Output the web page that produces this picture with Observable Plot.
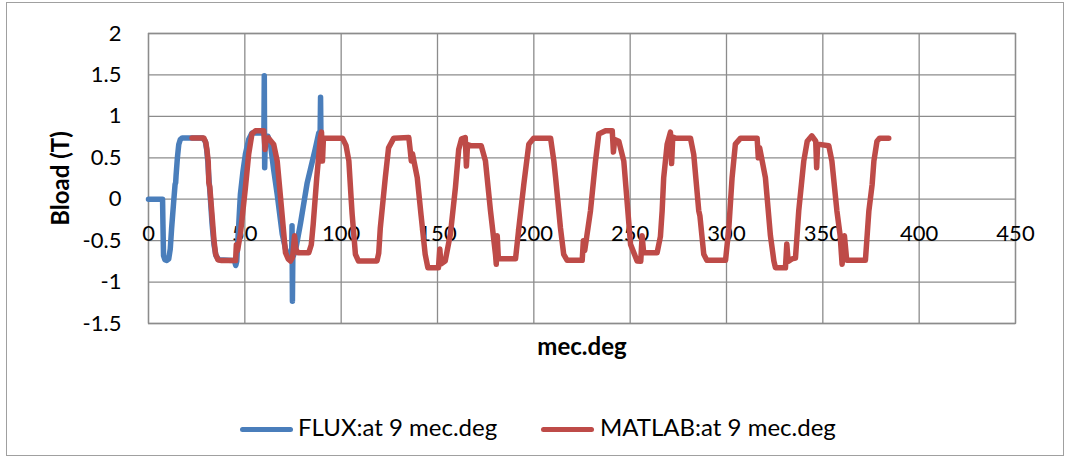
<!DOCTYPE html>
<html>
<head>
<meta charset="utf-8">
<script src="https://cdn.jsdelivr.net/npm/d3@7"></script>
<script src="https://cdn.jsdelivr.net/npm/@observablehq/plot@0.6"></script>
<style>
  html, body { margin: 0; padding: 0; background: #fff; }
  #wrap { position: relative; width: 1065px; height: 457px; overflow: hidden; font-family: Lato, sans-serif; }
  #border { position: absolute; left: 6px; top: 2px; width: 1058px; height: 454px; box-sizing: border-box; border: 1.5px solid #a0a0a0; }
  #chart { position: absolute; left: 0; top: 0; }
  .leg { position: absolute; top: 412px; font-size: 24px; color: #000; line-height: 30px; white-space: nowrap; }
  .sw { position: absolute; top: 427px; height: 5px; border-radius: 3px; }
</style>
</head>
<body>
<div id="wrap">
  <div id="border"></div>
  <div id="chart"></div>
</div>
<script>
// ---- data ----
const seriesNames = ["FLUX:at 9 mec.deg", "MATLAB:at 9 mec.deg"];
const seriesColors = ["#4A7EBB", "#BE4B48"];
const xTicks = [0, 50, 100, 150, 200, 250, 300, 350, 400, 450];
const yTicks = [2, 1.5, 1, 0.5, 0, -0.5, -1, -1.5];
const yTickLabels = ["2", "1.5", "1", "0.5", "0", "-0.5", "-1", "-1.5"];
const xTitle = "mec.deg";
const yTitle = "Bload (T)";

const fluxDeg = [0, 7.3, 7.5, 7.8, 8.5, 9.5, 10.5, 11.3, 12, 13, 13.8, 14.1, 14.3, 15, 15.7, 16.5, 17.5, 28, 29.5, 30.2, 30.8, 31.2, 32, 33, 34, 35, 36.5, 44, 44.8, 45.3, 45.8, 46.5, 47.7, 49, 50.3, 52, 53.7, 59.9, 60.1, 60.3, 60.6, 62, 63.3, 65, 66.8, 69.4, 71.1, 73, 74.3, 74.5, 74.7, 74.9, 76.3, 78.9, 82.3, 86.5, 88.4, 89.1, 89.3, 89.5];
const fluxB = [0, 0, -0.3, -0.68, -0.73, -0.74, -0.72, -0.6, -0.35, -0.05, 0.18, 0.2, 0.28, 0.5, 0.66, 0.72, 0.74, 0.74, 0.7, 0.6, 0.45, 0.3, 0.05, -0.3, -0.55, -0.68, -0.73, -0.74, -0.76, -0.8, -0.75, -0.45, 0.06, 0.33, 0.545, 0.72, 0.8, 0.8, 1.49, 0.38, 0.75, 0.76, 0.665, 0.35, 0.06, -0.42, -0.6, -0.7, -0.68, -0.32, -1.23, -0.7, -0.62, -0.29, 0.19, 0.6, 0.8, 0.82, 1.23, 0.75];

const matlabDeg = [22.6, 28.7, 29.8, 30.4, 31, 31.3, 31.8, 33, 34, 34.8, 36, 38, 45.2, 45.6, 46.2, 47.7, 50.3, 52, 53.7, 55.5, 59.8, 60.5, 61, 62.2, 65, 66.8, 69, 71.1, 72.5, 73.7, 74.8, 75.8, 76.5, 77.5, 83.2, 84.5, 85.5, 87.3, 89.2, 89.8, 90.3, 90.8, 100.7, 102.5, 104, 105.2, 105.7, 107.4, 109, 118.6, 119.5, 120.3, 122.9, 124.6, 127.3, 135.1, 135.8, 136.4, 137, 139.5, 141.5, 143.6, 145, 150.5, 151.2, 151.8, 154, 156.7, 159.3, 161, 162.5, 164.4, 165, 165.6, 167.6, 172.7, 174.9, 177.5, 180.1, 180.5, 181, 181.6, 190.5, 192.2, 194.8, 197.4, 199.9, 208.7, 210.4, 211.3, 213.8, 215.5, 217.3, 225.1, 225.7, 226.4, 229.4, 232, 233.7, 237.2, 240.7, 241.3, 242, 244.1, 246.7, 250.2, 253.6, 255.5, 256.2, 257, 264, 265.7, 266.6, 267.4, 269.2, 270.9, 271.5, 272.1, 273.5, 281.3, 283, 285.6, 286.2, 288.2, 289.8, 299.5, 301.2, 302.9, 304.6, 307.3, 315.9, 316.5, 317.2, 320.2, 322.8, 324.6, 325.4, 330.6, 331.3, 332, 334, 335.8, 337.5, 340.1, 341.9, 344.3, 346.3, 346.8, 347.3, 353.1, 354.7, 357.3, 359, 360, 361.2, 362.4, 372.1, 373.9, 375.6, 376.5, 378.1, 379.5, 384.2];
const matlabB = [0.74, 0.74, 0.68, 0.58, 0.45, 0.2, 0.15, -0.2, -0.5, -0.66, -0.73, -0.74, -0.74, -0.55, -0.62, -0.42, 0.14, 0.545, 0.79, 0.826, 0.826, 0.6, 0.72, 0.74, 0.66, 0.46, -0.1, -0.645, -0.72, -0.746, -0.7, -0.44, -0.6, -0.645, -0.645, -0.55, -0.3, 0.25, 0.745, 0.81, 0.46, 0.74, 0.737, 0.65, 0.46, 0, -0.18, -0.665, -0.746, -0.746, -0.65, -0.35, 0.26, 0.62, 0.737, 0.745, 0.6, 0.46, 0.55, 0.26, -0.2, -0.665, -0.827, -0.827, -0.6, -0.78, -0.746, -0.42, 0.14, 0.6, 0.73, 0.745, 0.4, 0.66, 0.645, 0.645, 0.46, -0.14, -0.665, -0.786, -0.44, -0.72, -0.72, -0.35, 0.18, 0.665, 0.737, 0.737, 0.46, 0.26, -0.343, -0.665, -0.738, -0.738, -0.5, -0.62, -0.14, 0.46, 0.786, 0.826, 0.826, 0.57, 0.72, 0.7, 0.46, -0.545, -0.746, -0.75, -0.44, -0.645, -0.645, -0.45, -0.14, 0.26, 0.665, 0.81, 0.43, 0.75, 0.737, 0.737, 0.54, -0.14, -0.2, -0.665, -0.738, -0.738, -0.35, 0.26, 0.665, 0.737, 0.737, 0.5, 0.62, 0.26, -0.44, -0.746, -0.827, -0.827, -0.54, -0.75, -0.72, -0.71, -0.14, 0.46, 0.7, 0.765, 0.7, 0.38, 0.665, 0.645, 0.46, -0.14, -0.44, -0.786, -0.44, -0.738, -0.738, -0.14, 0.18, 0.46, 0.7, 0.737, 0.737];

const gridColor = "#8c8c8c";

const chart = Plot.plot({
  width: 1065,
  height: 457,
  marginLeft: 148,
  marginRight: 50,
  marginTop: 33,
  marginBottom: 134,
  x: {domain: [0, 450]},
  y: {domain: [-1.5, 2]},
  style: {fontFamily: "Lato, sans-serif", fontSize: "22px", color: "#000", background: "transparent", overflow: "visible"},
  marks: [
    Plot.gridX(xTicks, {stroke: gridColor, strokeOpacity: 1, strokeWidth: 1.3}),
    Plot.gridY(yTicks, {stroke: gridColor, strokeOpacity: 1, strokeWidth: 1.3}),
    Plot.frame({stroke: gridColor, strokeWidth: 1.3}),
    Plot.axisY(yTicks, {tickSize: 0, tickPadding: 27, label: null, tickFormat: d => yTickLabels[yTicks.indexOf(d)]}),
    Plot.axisY({ticks: [], tickSize: 0, label: yTitle, labelAnchor: "center", labelArrow: "none", labelOffset: 97, fontWeight: "bold", fontSize: 24, dx: 0}),
    Plot.axisX(xTicks, {tickSize: 0, tickPadding: 0, dy: -98, label: null, tickFormat: d => String(d)}),
    Plot.axisX({ticks: [], tickSize: 0, label: xTitle, labelAnchor: "center", labelArrow: "none", labelOffset: 31, fontWeight: "bold", fontSize: 24}),
    Plot.line(fluxDeg, {x: fluxDeg, y: fluxB, stroke: seriesColors[0], strokeWidth: 5.5, strokeLinejoin: "round", strokeLinecap: "round"}),
    Plot.line(matlabDeg, {x: matlabDeg, y: matlabB, stroke: seriesColors[1], strokeWidth: 5.5, strokeLinejoin: "round", strokeLinecap: "round"})
  ]
});
document.getElementById("chart").appendChild(chart);

// legend (HTML, below the plot area)
const wrap = document.getElementById("wrap");
const legendPos = [{sw: 240, txt: 298}, {sw: 541, txt: 600}];
seriesNames.forEach((name, i) => {
  const sw = document.createElement("div");
  sw.className = "sw";
  sw.style.left = legendPos[i].sw + "px";
  sw.style.width = "53px";
  sw.style.background = seriesColors[i];
  wrap.appendChild(sw);
  const t = document.createElement("div");
  t.className = "leg";
  t.style.left = legendPos[i].txt + "px";
  t.textContent = name;
  wrap.appendChild(t);
});
</script>
</body>
</html>
